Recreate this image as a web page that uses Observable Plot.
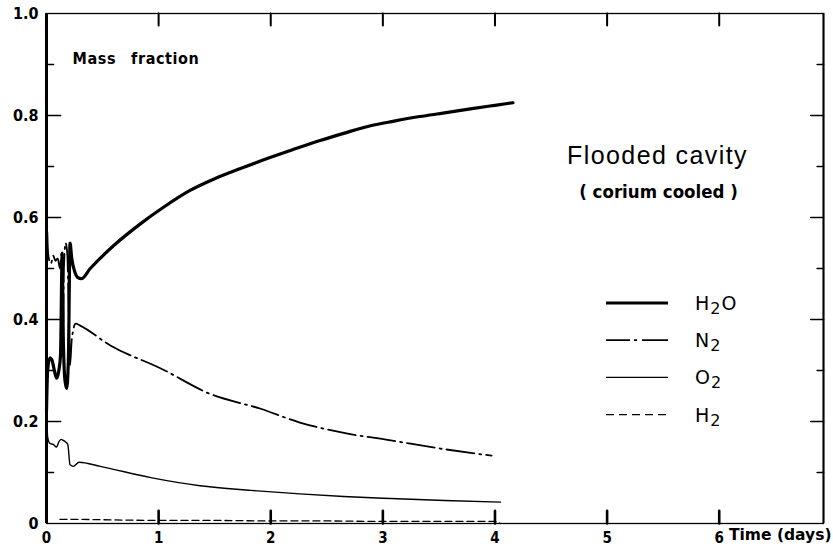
<!DOCTYPE html>
<html><head><meta charset="utf-8">
<script src="https://cdn.jsdelivr.net/npm/d3@7"></script>
<script src="https://cdn.jsdelivr.net/npm/@observablehq/plot@0.6"></script>
<style>body{margin:0;background:#fff;}</style>
</head><body><div id="chart"></div>
<script>
// ---- data ----
const h2oTime  = [0,0.01,0.03,0.05,0.07,0.09,0.11,0.125,0.14,0.15,0.165,0.18,0.195,0.21,0.225,0.25,0.28,0.31,0.39,0.6,0.84,1.05,1.28,1.5,1.73,2.0,2.17,2.44,2.65,2.89,3.1,3.33,3.55,3.78,4.0,4.16];
const h2oValue = [0.22,0.30,0.325,0.32,0.30,0.285,0.30,0.33,0.53,0.36,0.28,0.265,0.32,0.55,0.52,0.495,0.482,0.48,0.50,0.545,0.588,0.621,0.653,0.676,0.696,0.718,0.731,0.751,0.765,0.780,0.789,0.798,0.805,0.813,0.820,0.825];

const n2Time  = [0,0.01,0.02,0.04,0.06,0.08,0.10,0.12,0.135,0.145,0.155,0.17,0.185,0.2,0.21,0.225,0.26,0.3,0.57,1.02,1.46,1.91,2.26,2.62,3.07,3.51,3.97];
const n2Value = [0.65,0.55,0.52,0.51,0.525,0.515,0.52,0.50,0.53,0.34,0.50,0.55,0.53,0.40,0.31,0.36,0.392,0.388,0.349,0.304,0.254,0.225,0.198,0.179,0.163,0.147,0.133];

const o2Time  = [0,0.01,0.03,0.06,0.09,0.11,0.13,0.15,0.17,0.19,0.21,0.24,0.29,0.48,0.93,1.37,1.82,2.26,2.65,3.07,3.55,4.05];
const o2Value = [0.23,0.17,0.157,0.155,0.15,0.16,0.165,0.163,0.16,0.155,0.115,0.112,0.12,0.112,0.09,0.074,0.065,0.058,0.053,0.049,0.045,0.042];

const h2Time  = [0.12,0.3,0.6,1.0,1.5,2.0,2.5,3.0,3.5,4.0,4.05];
const h2Value = [0.008,0.008,0.007,0.006,0.006,0.005,0.005,0.004,0.004,0.004,0.0];

const xLabelTicks = [0,1,2,3,4,5,6];
const xInnerTicks = [1,2,3,4,5,6];
const yLabelTicks = [0,0.2,0.4,0.6,0.8,1.0];
const yMajorTicks = [0.2,0.4,0.6,0.8];
const yMinorTicks = [0.1,0.3,0.5,0.7,0.9];
const xMax = 6.93;

const legendNames = [["H","2","O"],["N","2",""],["O","2",""],["H","2",""]];
const titleText = "Flooded cavity";
const subtitleText = "( corium cooled )";
const yTitle = "Mass\u2003fraction";
const xTitle = "Time (days)";

// ---- build ----
const W = 833, H = 550, ML = 46, MR = 10, MT = 13, MB = 27;
const tbl = (t, v) => t.map((d, i) => ({t: d, v: v[i]}));
const series = [
  {data: tbl(h2oTime, h2oValue), sw: 3.2, dash: null},
  {data: tbl(n2Time, n2Value), sw: 1.8, dash: "28,5,2,5"},
  {data: tbl(o2Time, o2Value), sw: 1.4, dash: null},
  {data: tbl(h2Time, h2Value), sw: 1.3, dash: "7,4"}
];
const legendDash = [null, "24,4,3,5,26", null, "8,5"];

// inward tick segments (drawn with Plot.vector from the axis position)
const tickSegs = [
  ...yMajorTicks.map(v => ({x: 0, y: v, len: 20, dir: "right", w: 1.6})),
  ...yMinorTicks.map(v => ({x: 0, y: v, len: 10, dir: "right", w: 1.6})),
  ...yMajorTicks.map(v => ({x: xMax, y: v, len: 18, dir: "left", w: 1.6})),
  ...yMinorTicks.map(v => ({x: xMax, y: v, len: 9, dir: "left", w: 1.6})),
  ...xInnerTicks.map(v => ({x: v, y: 0, len: 18, dir: "up", w: 2.6})),
  ...xInnerTicks.map(v => ({x: v, y: 1, len: 17, dir: "down", w: 2}))
];
const rot = {right: 90, left: 270, up: 0, down: 180};

const FONT = "'DejaVu Sans Condensed','DejaVu Sans',sans-serif";

const plot = Plot.plot({
  width: W, height: H,
  marginLeft: ML, marginRight: MR, marginTop: MT, marginBottom: MB,
  style: {fontFamily: FONT, fontWeight: "bold", fontSize: "15px", color: "#000", background: "#fff"},
  x: {domain: [0, xMax]},
  y: {domain: [0, 1]},
  marks: [
    Plot.frame({stroke: "#000", strokeWidth: 1.3}),
    Plot.ruleX([0], {stroke: "#000", strokeWidth: 3}),
    Plot.ruleX([xMax], {stroke: "#000", strokeWidth: 2}),
    Plot.axisY(yLabelTicks, {anchor: "left", tickSize: 0, tickPadding: 8, label: null, fontSize: 16,
      tickFormat: d => d === 0 ? "0" : d.toFixed(1)}),
    Plot.axisX(xLabelTicks, {anchor: "bottom", tickSize: 0, tickPadding: 9, label: null, fontSize: 15,
      tickFormat: d => String(d)}),
    Plot.vector(tickSegs, {x: "x", y: "y", length: "len", rotate: d => rot[d.dir], anchor: "start",
      shape: "spike", r: 0.01, stroke: "#000", fill: "none", strokeWidth: "w"}),
    ...series.map(s => Plot.line(s.data, {x: "t", y: "v", stroke: "#000", strokeWidth: s.sw,
      strokeDasharray: s.dash, curve: "monotone-x"})),
    Plot.text([yTitle], {frameAnchor: "top-left", dx: 26, dy: 39, textAnchor: "start", fontSize: 16}),
    Plot.text([titleText], {frameAnchor: "top-right", dx: -166, dy: 133, textAnchor: "middle",
      fontSize: 25, fontWeight: "normal", fontFamily: "'Liberation Sans',Arial,sans-serif"}),
    Plot.text([subtitleText], {frameAnchor: "top-right", dx: -165, dy: 171, textAnchor: "middle", fontSize: 18.5}),
    Plot.text([xTitle], {frameAnchor: "bottom-right", dx: 8, dy: 16, textAnchor: "end", fontSize: 15.5,
      fontFamily: "'DejaVu Sans',sans-serif"})
  ]
});

const svg = d3.select(plot);
svg.selectAll("text").filter(function(){ return this.textContent === titleText; })
  .attr("letter-spacing", 1.4);
svg.selectAll("text").filter(function(){ return this.textContent === yTitle; })
  .attr("letter-spacing", 0.6);

// legend
const lg = svg.append("g").attr("class", "legend");
legendNames.forEach((parts, i) => {
  const y = 303 + i * 37.2;
  lg.append("line").attr("x1", 606).attr("x2", 668).attr("y1", y).attr("y2", y)
    .attr("stroke", "#000").attr("stroke-width", series[i].sw)
    .attr("stroke-dasharray", legendDash[i]);
  const t = lg.append("text").attr("x", 695).attr("y", y + 7).attr("text-anchor", "start")
    .attr("font-family", "'DejaVu Sans',sans-serif").attr("font-weight", "normal")
    .attr("font-size", 19).attr("letter-spacing", 1);
  t.append("tspan").text(parts[0]);
  t.append("tspan").attr("dy", 4).attr("font-size", 16).text(parts[1]);
  if (parts[2]) t.append("tspan").attr("dy", -4).text(parts[2]);
});

document.getElementById("chart").appendChild(plot);
</script>
</body></html>
